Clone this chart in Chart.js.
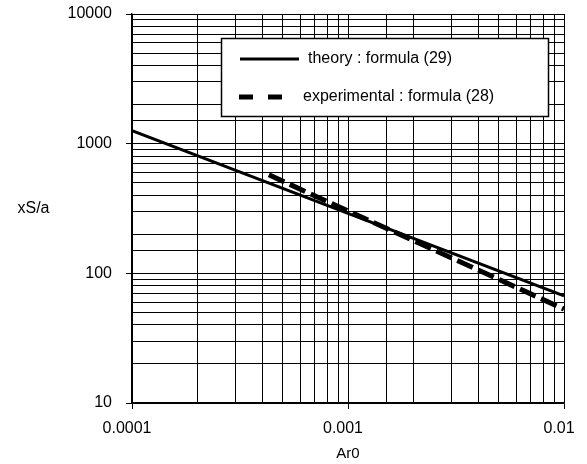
<!DOCTYPE html>
<html>
<head>
<meta charset="utf-8">
<script src="https://cdn.jsdelivr.net/npm/chart.js@4/dist/chart.umd.min.js"></script>
<style>
html,body{margin:0;padding:0;background:#fff;}
#wrap{width:587px;height:464px;}
</style>
</head>
<body>
<div id="wrap"><canvas id="c" width="587" height="464"></canvas></div>
<script>
// ---- data ----
const theoryLabel = 'theory : formula (29)';
const theoryX = [0.0001, 0.001, 0.01];
const theoryY = [1260, 290, 67];

const expLabel = 'experimental : formula (28)';
const expX = [0.00043, 0.001, 0.003, 0.01];
const expY = [575, 303, 132, 53];

const xTickLabels = ['0.0001', '0.001', '0.01'];
const yTickLabels = ['10', '100', '1000', '10000'];
const xTitle = 'Ar0';
const yTitle = 'xS/a';

const FONT = "'Liberation Sans', Arial, sans-serif";

function isDecade(v) {
  const l = Math.log10(v);
  return Math.abs(l - Math.round(l)) < 1e-9;
}
function decadeLabel(v, labels) {
  if (!isDecade(v)) return '';
  for (const s of labels) {
    if (Math.abs(parseFloat(s) - v) / v < 1e-9) return s;
  }
  return '';
}

const customPlugin = {
  id: 'custom',
  beforeDraw(chart) {
    const ctx = chart.ctx;
    ctx.save();
    ctx.fillStyle = '#fff';
    ctx.fillRect(0, 0, chart.width, chart.height);
    ctx.restore();
  },
  afterDraw(chart) {
    const ctx = chart.ctx;
    ctx.save();
    // y title (horizontal)
    ctx.fillStyle = '#000';
    ctx.font = '16px ' + FONT;
    ctx.textAlign = 'center';
    ctx.textBaseline = 'middle';
    ctx.fillText(yTitle, 33.5, 209);

    // legend box
    const bx = 221.5, by = 38.5, bw = 327, bh = 78;
    ctx.fillStyle = '#fff';
    ctx.fillRect(bx, by, bw, bh);
    ctx.strokeStyle = '#000';
    ctx.lineWidth = 1.5;
    ctx.strokeRect(bx, by, bw, bh);

    const ds = chart.data.datasets;
    // theory sample
    ctx.beginPath();
    ctx.lineWidth = ds[0].borderWidth;
    ctx.setLineDash([]);
    ctx.moveTo(240, 59);
    ctx.lineTo(299, 59);
    ctx.stroke();
    ctx.fillStyle = '#000';
    ctx.textAlign = 'left';
    ctx.textBaseline = 'middle';
    ctx.font = '16px ' + FONT;
    ctx.fillText(ds[0].label, 308, 59);

    // experimental sample
    ctx.beginPath();
    ctx.lineWidth = ds[1].borderWidth;
    ctx.setLineDash([14, 15]);
    ctx.moveTo(239, 97);
    ctx.lineTo(284, 97);
    ctx.stroke();
    ctx.setLineDash([]);
    ctx.fillText(ds[1].label, 303, 97);
    ctx.restore();
  }
};

const tickColorFn = (c) => (c.tick && isDecade(c.tick.value)) ? '#000' : 'rgba(0,0,0,0)';
function zeroPad(s) { s.paddingTop = 0; s.paddingBottom = 0; s.paddingLeft = 0; s.paddingRight = 0; }

new Chart(document.getElementById('c'), {
  type: 'line',
  data: {
    datasets: [
      {
        label: theoryLabel,
        data: theoryX.map((x, i) => ({x: x, y: theoryY[i]})),
        borderColor: '#000',
        borderWidth: 3,
        pointRadius: 0,
        fill: false,
        tension: 0
      },
      {
        label: expLabel,
        data: expX.map((x, i) => ({x: x, y: expY[i]})),
        borderColor: '#000',
        borderWidth: 5,
        borderDash: [17, 6],
        borderCapStyle: 'butt',
        pointRadius: 0,
        fill: false,
        tension: 0
      }
    ]
  },
  options: {
    responsive: false,
    animation: false,
    devicePixelRatio: 1,
    layout: { padding: { top: 14, right: 23, left: 0, bottom: 0 } },
    plugins: {
      legend: { display: false },
      tooltip: { enabled: false }
    },
    scales: {
      x: {
        type: 'logarithmic',
        position: 'bottom',
        min: 0.0001,
        max: 0.01,
        afterFit(s) { s.height = 61; zeroPad(s); },
        grid: {
          color: '#000',
          lineWidth: 1,
          drawTicks: true,
          tickLength: 6,
          tickColor: tickColorFn,
          tickWidth: 1
        },
        border: { display: true, color: '#000', width: 1.5 },
        ticks: {
          autoSkip: false,
          maxRotation: 0,
          minRotation: 0,
          padding: 10,
          labelOffset: -5,
          color: '#000',
          font: { family: FONT, size: 16 },
          callback: (v) => decadeLabel(v, xTickLabels)
        },
        title: {
          display: true,
          text: xTitle,
          color: '#000',
          font: { family: FONT, size: 15 },
          padding: { top: 0, bottom: 1 }
        }
      },
      y: {
        type: 'logarithmic',
        position: 'left',
        min: 10,
        max: 10000,
        afterFit(s) { s.width = 132; zeroPad(s); },
        grid: {
          color: '#000',
          lineWidth: 1,
          drawTicks: true,
          tickLength: 6,
          tickColor: tickColorFn,
          tickWidth: 1
        },
        border: { display: true, color: '#000', width: 1.5 },
        ticks: {
          autoSkip: false,
          padding: 14,
          color: '#000',
          font: { family: FONT, size: 16 },
          callback: (v) => decadeLabel(v, yTickLabels)
        }
      }
    }
  },
  plugins: [customPlugin]
});
</script>
</body>
</html>
